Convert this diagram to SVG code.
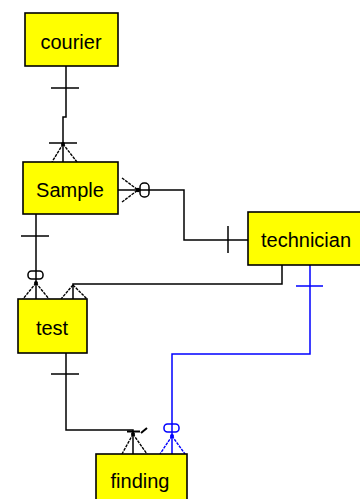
<svg xmlns="http://www.w3.org/2000/svg" width="360" height="499" viewBox="0 0 360 499">
<style>
.box{fill:#ffff00;stroke:#000;stroke-width:1.6}
.lbl{font-family:"Liberation Sans",Arial,sans-serif;font-size:20px;fill:#000}
.c{fill:none;stroke:#000;stroke-width:1.5}
.ft{fill:none;stroke:#000;stroke-width:1.4;stroke-dasharray:3 1}
.b .c{stroke:#0000ff}
.b .ft{stroke:#0000ff}
.dot{fill:#000}
.b .dot{fill:#0000ff}
</style>
<rect width="360" height="499" fill="#fff"/>
<g id="connectors">
  <g id="courier-sample">
    <path class="c" d="M66,66 V117 H63 V162"/>
    <path class="c" d="M51,88 H79"/>
    <path class="c" d="M49,143 H77"/>
    <circle class="dot" cx="63" cy="144" r="2"/>
    <path class="ft" d="M63,144 L52,162 M63,144 L77,162"/>
  </g>
  <g id="sample-technician">
    <path class="c" d="M118,190 H184 V240 H248"/>
    <path class="ft" d="M122,178 L138,190 M122,202 L138,190"/>
    <circle class="dot" cx="138" cy="190" r="2.2"/>
    <rect class="c" x="140" y="183" width="9" height="14" rx="4" fill="#fff"/>
    <path class="c" d="M228,226 V253"/>
  </g>
  <g id="sample-test">
    <path class="c" d="M36,214 V299"/>
    <path class="c" d="M21,236 H49"/>
    <rect class="c" x="28" y="271" width="15" height="8" rx="3.5"/>
    <circle class="dot" cx="36" cy="283" r="2"/>
    <path class="ft" d="M36,283 L23,299 M36,283 L49,299"/>
  </g>
  <g id="technician-test">
    <path class="c" d="M282,265 V284 H73 V299"/>
    <path class="ft" d="M73,285 L61,299 M73,285 L87,299"/>
  </g>
  <g id="test-finding">
    <path class="c" d="M66,353 V430 H133 V454"/>
    <path class="c" d="M51,374 H79"/>
    <path class="c" d="M127,431.5 H140 M141,433 L147,428" style="stroke-width:2"/>
    <circle class="dot" cx="133" cy="434" r="2"/>
    <path class="ft" d="M133,434 L122,454 M133,434 L147,454"/>
  </g>
  <g id="technician-finding" class="b">
    <path class="c" d="M310,265 V354 H172 V454"/>
    <path class="c" d="M296,286 H323"/>
    <rect class="c" x="164" y="424" width="15" height="8" rx="3.5"/>
    <circle class="dot" cx="172" cy="436" r="2"/>
    <path class="ft" d="M172,436 L160,454 M172,436 L185,454"/>
  </g>
</g>
<g id="courier">
  <rect class="box" x="25" y="13" width="93" height="53"/>
  <text class="lbl" x="71" y="49" text-anchor="middle">courier</text>
</g>
<g id="Sample">
  <rect class="box" x="23" y="162" width="95" height="52"/>
  <text class="lbl" x="70" y="197" text-anchor="middle">Sample</text>
</g>
<g id="technician">
  <rect class="box" x="248" y="212" width="120" height="53"/>
  <text class="lbl" x="261" y="247">technician</text>
</g>
<g id="test">
  <rect class="box" x="18" y="299" width="69" height="54"/>
  <text class="lbl" x="52" y="335" text-anchor="middle">test</text>
</g>
<g id="finding">
  <rect class="box" x="96" y="454" width="91" height="55"/>
  <text class="lbl" x="140" y="488" text-anchor="middle">finding</text>
</g>
</svg>
